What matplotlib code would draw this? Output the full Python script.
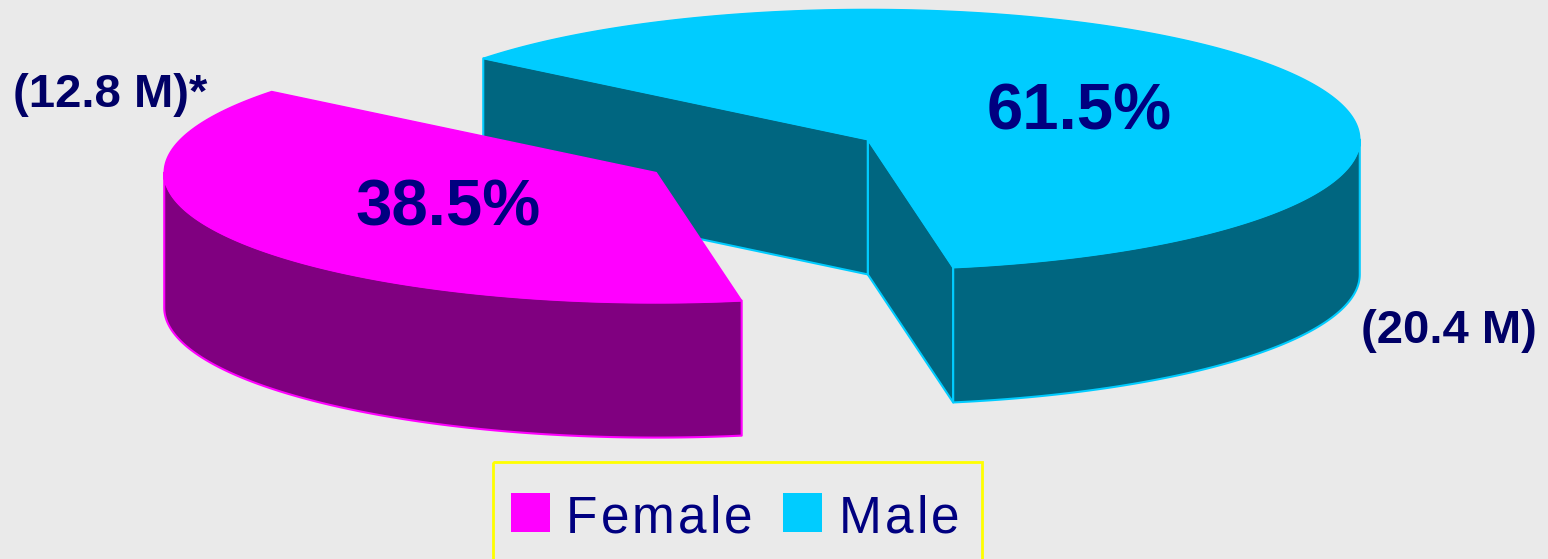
import numpy as np
import matplotlib
matplotlib.use("Agg")
import matplotlib.pyplot as plt
from matplotlib.patches import Polygon, Rectangle
from matplotlib.font_manager import FontProperties
from matplotlib.textpath import TextToPath

# ---------------------------------------------------------------
#  Data
# ---------------------------------------------------------------
labels = ["Female", "Male"]
shares = [38.5, 61.5]
pct_labels = ["38.5%", "61.5%"]
count_labels = ["(12.8 M)*", "(20.4 M)"]

top_colors = ["#FF00FF", "#00CCFF"]
side_colors = ["#800080", "#006680"]
BG = "#EAEAEA"
NAVY = "#000080"

# ---------------------------------------------------------------
#  Geometry of the 3D pie (pixel space)
# ---------------------------------------------------------------
CX, CY = 762, 156
RX, RY = 492, 130
DEPTH = 135
EXPLODE = 0.25
START = 141.4

fig = plt.figure(figsize=(15.48, 5.59), dpi=100, facecolor=BG)
ax = fig.add_axes([0, 0, 1, 1])
ax.set_xlim(0, 1548)
ax.set_ylim(559, 0)
ax.axis("off")
ax.set_facecolor(BG)


def edge_pts(cx, cy, angles, dz=0):
    t = np.radians(angles)
    return np.column_stack([cx + RX * np.cos(t), cy - RY * np.sin(t) + dz])


slices = []
t = START
total = sum(shares)
for i, s in enumerate(shares):
    span = 360.0 * s / total
    t0, t1 = t, t + span
    mid = np.radians((t0 + t1) / 2)
    cx = CX + EXPLODE * RX * np.cos(mid)
    cy = CY - EXPLODE * RY * np.sin(mid)
    slices.append((i, t0, t1, cx, cy))
    t = t1

# back slices first
for i, t0, t1, cx, cy in sorted(slices, key=lambda s: s[4]):
    top_c, side_c = top_colors[i], side_colors[i]
    kw = dict(facecolor=side_c, edgecolor=top_c, linewidth=1.5, joinstyle="round")

    # radial faces that face the viewer
    for ang, visible in ((t0, np.cos(np.radians(t0)) > 0),
                         (t1, np.cos(np.radians(t1)) < 0)):
        if visible:
            p = edge_pts(cx, cy, [ang])[0]
            poly = [(cx, cy), tuple(p), (p[0], p[1] + DEPTH), (cx, cy + DEPTH)]
            ax.add_patch(Polygon(poly, closed=True, **kw))

    # curved outer wall (front half only)
    for lo, hi in ((180, 360), (540, 720)):
        a, b = max(t0, lo), min(t1, hi)
        if b > a:
            arc = np.linspace(a, b, 200)
            upper = edge_pts(cx, cy, arc)
            lower = edge_pts(cx, cy, arc[::-1], DEPTH)
            ax.add_patch(Polygon(np.vstack([upper, lower]), closed=True, **kw))

    # top face
    arc = np.linspace(t0, t1, 400)
    top = np.vstack([[cx, cy], edge_pts(cx, cy, arc)])
    ax.add_patch(Polygon(top, closed=True, facecolor=top_c, edgecolor=top_c,
                         linewidth=1.0))

# percentage labels
pct_pos = [(448, 225), (1079, 130)]
for (x, y), txt in zip(pct_pos, pct_labels):
    ax.text(x, y, txt, ha="center", va="baseline", fontsize=47,
            fontweight="bold", color=NAVY, family="Liberation Sans")

# population labels
count_pos = [(13, 107), (1361, 343)]
for (x, y), txt in zip(count_pos, count_labels):
    ax.text(x, y, txt, ha="left", va="baseline", fontsize=34,
            fontweight="bold", color="#000066", family="Liberation Sans")


# legend text is letter-spaced in the original
def spaced_text(x, y, s, size, track, **kw):
    fp = FontProperties(family="Liberation Sans", size=size)
    t2p = TextToPath()
    for k, ch in enumerate(s):
        w = t2p.get_text_width_height_descent(s[:k], fp, ismath=False)[0] if k else 0
        ax.text(x + w * 100 / 72 + k * track, y, ch, ha="left", va="baseline",
                fontproperties=fp, **kw)


ax.add_patch(Rectangle((493, 462), 489, 110, facecolor="none",
                       edgecolor="#FFFF00", linewidth=2))
sw_x = [511, 783]
txt_x = [566, 839]
for i, lab in enumerate(labels):
    ax.add_patch(Rectangle((sw_x[i], 493), 39, 39, facecolor=top_colors[i],
                           edgecolor="none"))
    spaced_text(txt_x[i], 533, lab, 37, 3.0, color=NAVY)

fig.savefig("out.png", dpi=100, facecolor=BG)
